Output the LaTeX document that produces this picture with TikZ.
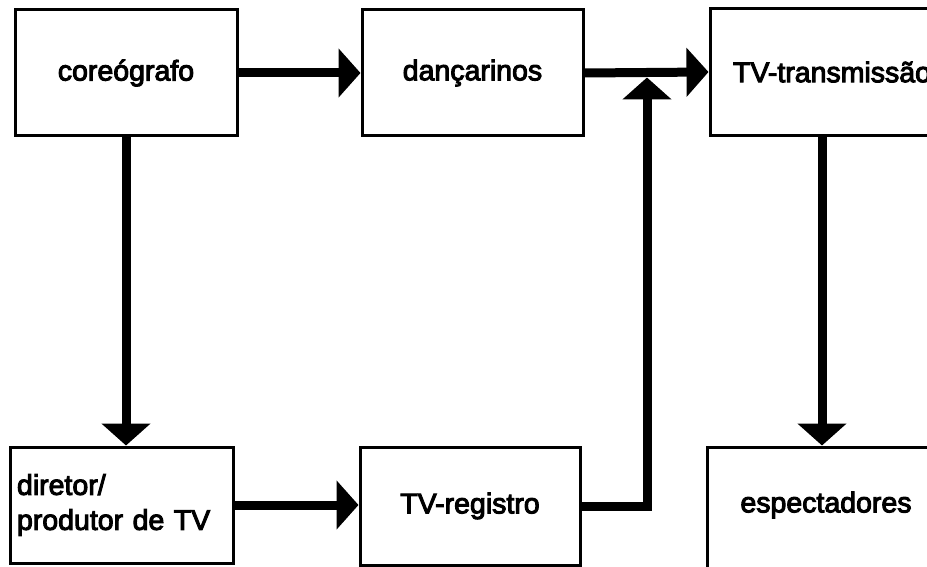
\documentclass[tikz,border=0pt]{standalone}
\usepackage{fontspec}
\newfontfamily\lblfont{Liberation Sans}[FakeBold=3.5]
\usetikzlibrary{arrows.meta}
\begin{document}
\begin{tikzpicture}[x=1pt,y=-1pt,
  lbl/.style={font=\lblfont\fontsize{28.5}{35}\selectfont},
  box/.style={lbl, draw, line width=3pt, inner sep=0pt, fill=white},
  flow/.style={line width=9pt, line join=miter,
    -{Triangle[length=22pt,width=48pt]}}]
\useasboundingbox (0,0) rectangle (927,567);
\clip (0,0) rectangle (927,567);

% top row
\node[box, minimum width=222pt, minimum height=126pt] (cor) at (126,73) {coreógrafo};
\node[box, minimum width=221pt, minimum height=126pt] (dan) at (472.5,73) {dançarinos};
\node[box, minimum width=244pt, minimum height=127pt] (tvt) at (832,72) {TV-transmissão};

% bottom row
\node[box, minimum width=223pt, minimum height=116pt, text width=209pt,
  align=left] (dir) at (121.5,505) {diretor/\\produtor de TV};
\node[box, minimum width=220pt, minimum height=118pt] (reg) at (470,506) {TV-registro};
\node[box, minimum width=230pt, minimum height=160pt] (esp) at (822,527) {};
\node[lbl, inner sep=0pt] (espt) at (826,505) {espectadores};

% junction where the recording joins the dancers' feed
\coordinate (j) at (647,77.5);

% connectors
\draw[flow] (cor.east) -- (dan.west);
\draw[flow] (dan.east) -- (tvt.west);
\draw[flow] (cor.south) -- (cor.south |- dir.north);
\draw[flow] (esp.north |- tvt.south) -- (esp.north);
\draw[flow] (dir.east) -- (dir.east -| reg.west);
\draw[flow] (reg.east) -| (j);
\end{tikzpicture}
\end{document}
